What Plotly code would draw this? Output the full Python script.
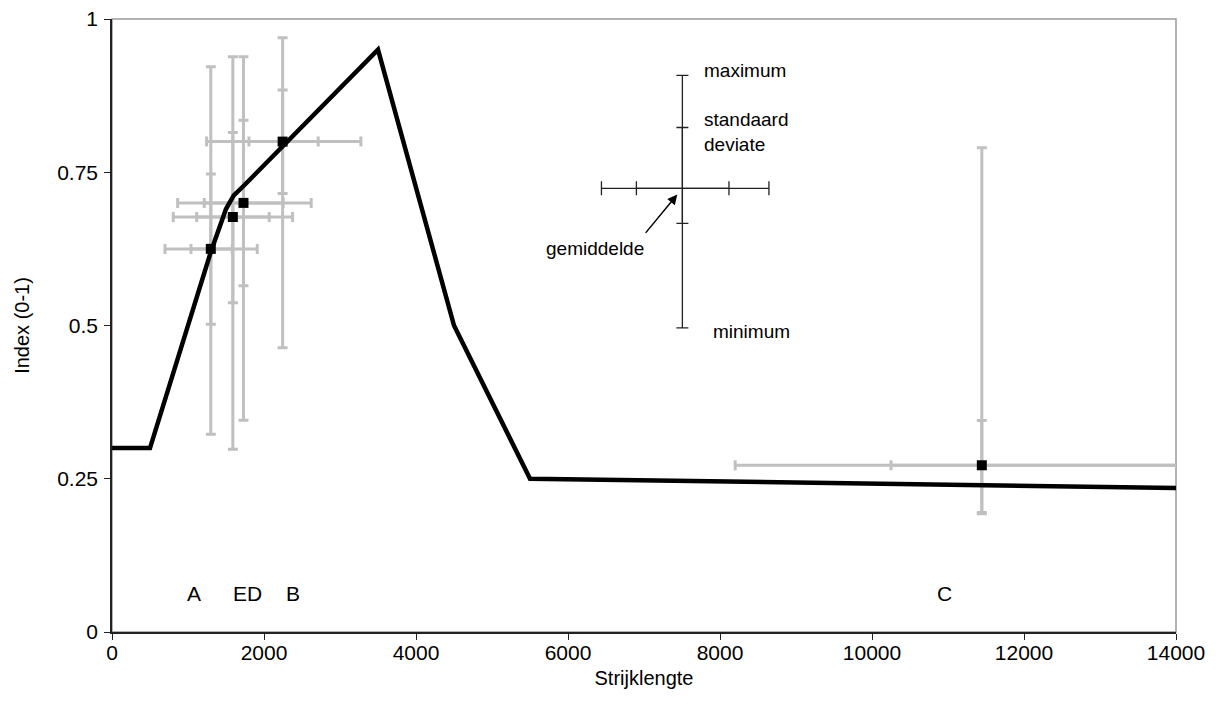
import plotly.graph_objects as go

# ---- data ----
site_labels = ["A", "E", "D", "B", "C"]
x_mean = [1300, 1590, 1730, 2245, 11445]
y_mean = [0.625, 0.677, 0.700, 0.800, 0.272]
x_min = [697, 806, 864, 1245, 8200]
x_max = [1911, 2376, 2621, 3275, 16000]
x_sd_lo = [1039, 1114, 1214, 1802, 10250]
x_sd_hi = [1582, 2069, 2253, 2713, 14800]
y_min = [0.3225, 0.298, 0.3455, 0.4635, 0.193]
y_max = [0.922, 0.9385, 0.9385, 0.9695, 0.790]
y_sd_lo = [0.502, 0.537, 0.565, 0.7155, 0.195]
y_sd_hi = [0.747, 0.815, 0.835, 0.884, 0.345]

# index curve
curve_x = [0, 500, 1300, 1400, 1500, 1600, 1750, 3500, 4500, 5500, 14000]
curve_y = [0.30, 0.30, 0.62, 0.655, 0.69, 0.712, 0.73, 0.95, 0.50, 0.25, 0.235]

# group labels near bottom
group_text = ["A", "ED", "B", "C"]
group_x = [1083, 1784, 2385, 10955]
group_y = [0.062, 0.062, 0.062, 0.062]

# explanatory cross (legend)
leg_x, leg_y = 7505, 0.7237
leg_xmin, leg_xmax = 6440, 8644
leg_xsd_lo, leg_xsd_hi = 6900, 8118
leg_ymin, leg_ymax = 0.496, 0.908
leg_ysd_lo, leg_ysd_hi = 0.6665, 0.823

x_ticks = [0, 2000, 4000, 6000, 8000, 10000, 12000, 14000]
x_ticktext = ["0", "2000", "4000", "6000", "8000", "10000", "12000", "14000"]
y_ticks = [0, 0.25, 0.5, 0.75, 1]
y_ticktext = ["0", "0.25", "0.5", "0.75", "1"]

FONT = "Liberation Sans, Arial, sans-serif"
GREY = "#c0c0c0"

fig = go.Figure()

def minus(a, b):
    return [ai - bi for ai, bi in zip(a, b)]

# min-max bars
fig.add_trace(go.Scatter(
    x=x_mean, y=y_mean, mode="markers", marker=dict(size=1, opacity=0),
    error_x=dict(type="data", symmetric=False, array=minus(x_max, x_mean),
                 arrayminus=minus(x_mean, x_min), color=GREY, thickness=3, width=5),
    error_y=dict(type="data", symmetric=False, array=minus(y_max, y_mean),
                 arrayminus=minus(y_mean, y_min), color=GREY, thickness=3, width=5),
    showlegend=False, hoverinfo="skip"))
# SD ticks
fig.add_trace(go.Scatter(
    x=x_mean, y=y_mean, mode="markers", marker=dict(size=1, opacity=0),
    error_x=dict(type="data", symmetric=False, array=minus(x_sd_hi, x_mean),
                 arrayminus=minus(x_mean, x_sd_lo), color=GREY, thickness=3, width=5),
    error_y=dict(type="data", symmetric=False, array=minus(y_sd_hi, y_mean),
                 arrayminus=minus(y_mean, y_sd_lo), color=GREY, thickness=3, width=5),
    showlegend=False, hoverinfo="skip"))

# index curve
fig.add_trace(go.Scatter(x=curve_x, y=curve_y, mode="lines",
                         line=dict(color="black", width=4.5), showlegend=False))

# mean squares
fig.add_trace(go.Scatter(x=x_mean, y=y_mean, mode="markers", text=site_labels,
                         marker=dict(symbol="square", size=10, color="black"),
                         showlegend=False))

# legend cross
fig.add_trace(go.Scatter(
    x=[leg_x], y=[leg_y], mode="markers", marker=dict(size=1, opacity=0),
    error_x=dict(type="data", symmetric=False, array=[leg_xmax - leg_x],
                 arrayminus=[leg_x - leg_xmin], color="#222", thickness=1.3, width=7),
    error_y=dict(type="data", symmetric=False, array=[leg_ymax - leg_y],
                 arrayminus=[leg_y - leg_ymin], color="#222", thickness=1.3, width=6),
    showlegend=False, hoverinfo="skip"))
fig.add_trace(go.Scatter(
    x=[leg_x], y=[leg_y], mode="markers", marker=dict(size=1, opacity=0),
    error_x=dict(type="data", symmetric=False, array=[leg_xsd_hi - leg_x],
                 arrayminus=[leg_x - leg_xsd_lo], color="#222", thickness=1.3, width=7),
    error_y=dict(type="data", symmetric=False, array=[leg_ysd_hi - leg_y],
                 arrayminus=[leg_y - leg_ysd_lo], color="#222", thickness=1.3, width=6),
    showlegend=False, hoverinfo="skip"))

ann = []
for t, gx, gy in zip(group_text, group_x, group_y):
    ann.append(dict(x=gx, y=gy, text=t, showarrow=False, font=dict(size=21, color="black")))

ann += [
    dict(x=leg_x, y=leg_ymax, text="maximum", showarrow=False, xanchor="left",
         xshift=20, yshift=5, font=dict(size=19, color="black")),
    dict(x=leg_x, y=leg_ysd_hi, text="standaard<br>deviate", showarrow=False,
         xanchor="left", yanchor="middle", align="left", xshift=20, yshift=-4,
         font=dict(size=19, color="black")),
    dict(x=leg_x, y=leg_ymin, text="minimum", showarrow=False, xanchor="left",
         xshift=29, yshift=-4, font=dict(size=19, color="black")),
    dict(x=leg_x, y=leg_y, text="", showarrow=True, arrowhead=2, arrowsize=1.3,
         arrowwidth=1.5, arrowcolor="black", ax=-38, ay=46, standoff=8),
    dict(x=leg_x, y=leg_y, text="gemiddelde", showarrow=False, xanchor="right",
         yanchor="middle", xshift=-36, yshift=-60, font=dict(size=19, color="black")),
]

fig.update_layout(
    width=1226, height=724,
    margin=dict(l=112, r=50, t=19, b=92, autoexpand=False),
    paper_bgcolor="white", plot_bgcolor="white",
    font=dict(family=FONT, size=21, color="black"),
    annotations=ann,
    shapes=[dict(type="rect", xref="x domain", yref="y domain", x0=0, x1=1, y0=0, y1=1,
                 line=dict(color="#9a9a9a", width=1.5), layer="below")],
    xaxis=dict(range=[0, 14000], tickvals=x_ticks, ticktext=x_ticktext, ticks="outside",
               ticklen=6, tickcolor="#222", showline=True, linecolor="#222", linewidth=1.5,
               showgrid=False, zeroline=False, tickfont=dict(size=21), ticklabelstandoff=-5,
               automargin=False,
               title=dict(text="Strijklengte", font=dict(size=20), standoff=8)),
    yaxis=dict(range=[0, 1], tickvals=y_ticks, ticktext=y_ticktext, ticks="outside",
               ticklen=6, tickcolor="#222", showline=True, linecolor="#222", linewidth=1.5,
               showgrid=False, zeroline=False, tickfont=dict(size=21), ticklabelstandoff=2,
               automargin=False,
               title=dict(text="Index (0-1)", font=dict(size=20), standoff=22)),
)

fig.write_html("out.html")
